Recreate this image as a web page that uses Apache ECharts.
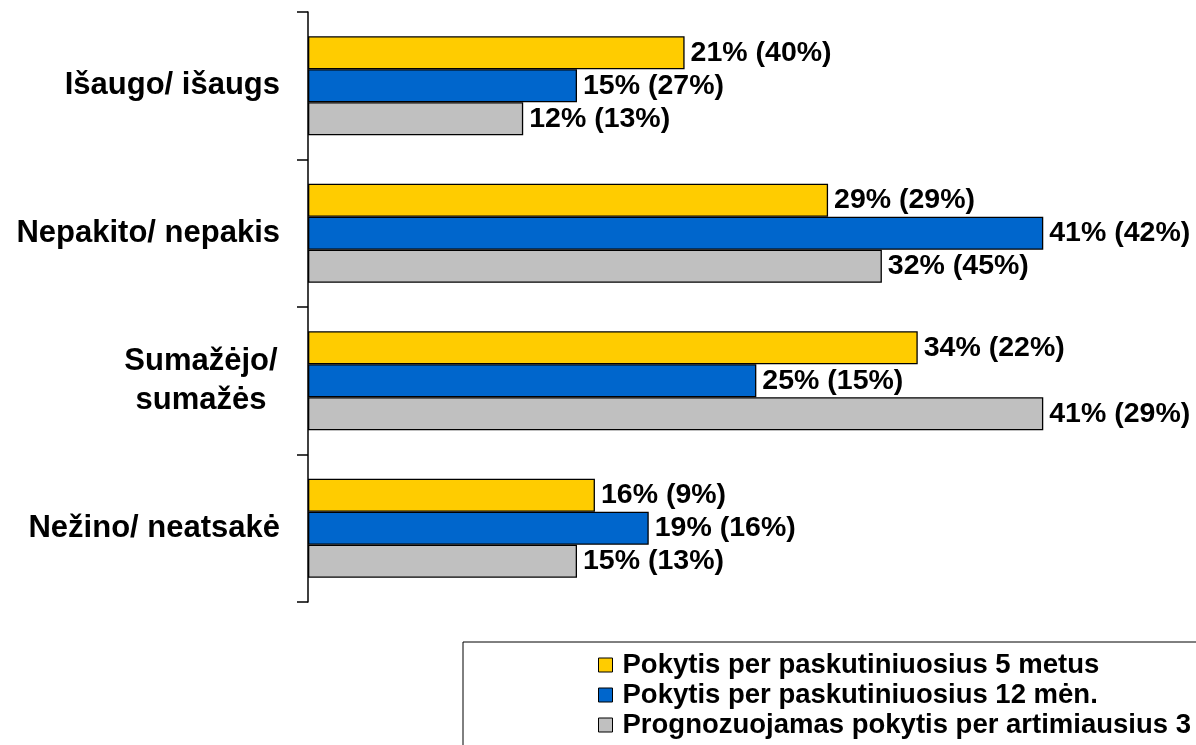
<!DOCTYPE html>
<html>
<head>
<meta charset="utf-8">
<script src="https://cdn.jsdelivr.net/npm/echarts@6/dist/echarts.min.js"></script>
<style>html,body{margin:0;padding:0;background:#fff;}#c{width:1196px;height:745px;}</style>
</head>
<body>
<div id="c"></div>
<script>
const categories = ['Išaugo/ išaugs', 'Nepakito/ nepakis', 'Sumažėjo/\nsumažės', 'Nežino/ neatsakė'];
const seriesNames = ['Pokytis per paskutiniuosius 5 metus', 'Pokytis per paskutiniuosius 12 mėn.', 'Prognozuojamas pokytis per artimiausius 3'];
const val5y = [21, 29, 34, 16];
const prev5y = [40, 29, 22, 9];
const val12m = [15, 41, 25, 19];
const prev12m = [27, 42, 15, 16];
const valNext = [12, 32, 41, 15];
const prevNext = [13, 45, 29, 13];
const colors = ['#FFCC00', '#0066CC', '#C0C0C0'];

const FONT = '"Liberation Sans", Arial, sans-serif';
const chart = echarts.init(document.getElementById('c'), null, {renderer: 'canvas'});

function mk(name, vals, prevs, color) {
  return {
    name: name, type: 'bar', data: vals, barWidth: 33, barGap: '0%',
    itemStyle: {color: color, borderColor: '#000', borderWidth: 1.3},
    label: {
      show: true, position: 'right', distance: 6,
      fontFamily: FONT, fontWeight: 'bold', fontSize: 28.5, color: '#000',
      formatter: p => p.value + '% (' + prevs[p.dataIndex] + '%)'
    },
    emphasis: {disabled: true}
  };
}

chart.setOption({
  animation: false,
  grid: {left: 308, right: 81, top: 12, bottom: 143, containLabel: false},
  xAxis: {type: 'value', min: 0, max: 45, show: false},
  yAxis: {
    type: 'category', data: categories, inverse: true,
    axisLine: {show: true, lineStyle: {color: '#000', width: 1.5}},
    axisTick: {show: true, length: 11, lineStyle: {color: '#000', width: 1.5}},
    axisLabel: {
      margin: 28, fontFamily: FONT, fontWeight: 'bold', fontSize: 31, color: '#000', lineHeight: 39,
      formatter: v => v.indexOf('\n') >= 0 ? v.split('\n').map(s => '{c|' + s + '}').join('\n') : v,
      rich: {c: {width: 158, align: 'center', fontFamily: FONT, fontWeight: 'bold', fontSize: 31, color: '#000', lineHeight: 39}}
    },
    splitLine: {show: false}
  },
  legend: {
    orient: 'vertical', left: 463, top: 642, height: 400,
    padding: [8, 200, 40, 135],
    borderColor: '#000', borderWidth: 1,
    itemWidth: 14, itemHeight: 14, itemGap: 0,
    icon: 'rect',
    selectedMode: false,
    itemStyle: {borderColor: '#000', borderWidth: 1},
    textStyle: {fontFamily: FONT, fontWeight: 'bold', fontSize: 27.5, color: '#000', lineHeight: 30, padding: [0, 0, 0, 5]},
    data: seriesNames
  },
  series: [
    mk(seriesNames[0], val5y, prev5y, colors[0]),
    mk(seriesNames[1], val12m, prev12m, colors[1]),
    mk(seriesNames[2], valNext, prevNext, colors[2])
  ]
});
</script>
</body>
</html>
